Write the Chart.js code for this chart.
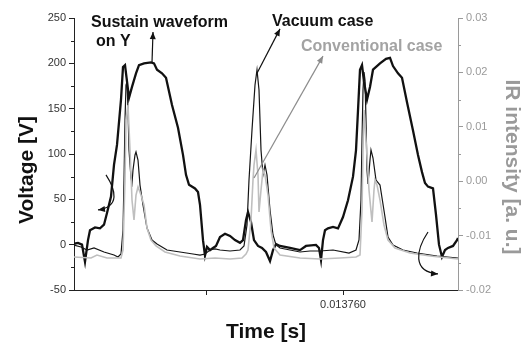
<!DOCTYPE html>
<html>
<head>
<meta charset="utf-8">
<script src="https://cdn.jsdelivr.net/npm/chart.js@4.4.0/dist/chart.umd.min.js"></script>
<style>
  html, body { margin: 0; padding: 0; background: #fff; }
</style>
</head>
<body>
<canvas id="chart" width="526" height="344"></canvas>
<script>
// time in sample units across the record, 0.013760 s falls on sample 269
const timeTicks = [132, 269];
const timeTickLabels = ['', '0.013760'];
const voltageTicks = [-50, 0, 50, 100, 150, 200, 250];
const irTicks = [-0.02, -0.01, 0.00, 0.01, 0.02, 0.03];

// sustain waveform on Y [V]
const sustainT = [0, 4, 8, 11, 14, 16, 21, 26, 30, 33, 37, 40, 43, 47, 49, 51, 53, 55, 58, 62, 65, 70, 77, 80, 83, 88, 92, 98, 104, 109, 112, 115, 121, 124, 126, 129, 131, 133, 136, 139, 142, 146, 151, 156, 161, 166, 169, 172, 174, 177, 180, 184, 188, 192, 196, 199, 202, 206, 216, 226, 232, 242, 245, 247, 249, 251, 254, 259, 264, 269, 274, 279, 282, 284, 286, 288, 290, 293, 296, 299, 306, 312, 316, 319, 324, 328, 333, 339, 344, 348, 351, 354, 359, 362, 365, 368, 371, 374, 379, 383, 384];
const sustainV = [1, 2, 0, -19, 5, 16, 19, 18, 22, 35, 53, 88, 110, 160, 196, 198, 180, 162, 174, 189, 198, 200, 201, 200, 193, 189, 184, 154, 129, 99, 77, 66, 62, 58, 44, 5, -12, -2.5, -6, -3.6, -1.4, 8.5, 12, 9.6, 5, 2, 5, 27, 36, 25, 5, -1.4, -3.6, -8, -18, -6, 0.8, -1.4, -3.6, -6, -1.4, -0.3, -3.6, -17, 5, 16, 18, 19.5, 18, 30.5, 49, 75, 104, 148, 193, 198, 180, 160, 174, 193, 200, 205, 206, 197, 189, 184, 157, 126, 99, 80, 68, 64, 62, 33, 0, -13.5, -6, -3.6, -1.4, 5, 7.4];

// IR intensity, vacuum case [a. u.]
const vacuumT = [0, 7, 13, 20, 30, 40, 44, 47, 49, 50, 51, 52, 53, 54, 55, 57, 58, 59, 61, 62, 64, 66, 69, 73, 78, 83, 93, 106, 119, 126, 131, 136, 141, 146, 156, 166, 170, 173, 175, 178, 181, 183, 185, 187, 189, 191, 193, 196, 199, 202, 206, 216, 226, 236, 246, 259, 275, 282, 285, 287, 288, 289, 290, 291, 292, 293, 294, 296, 297, 299, 302, 306, 311, 314, 319, 329, 343, 363, 384];
const vacuumIR = [-0.01173, -0.0121, -0.01265, -0.01228, -0.01301, -0.01357, -0.01393, -0.01338, -0.00897, 0.00022, 0.01125, 0.01768, 0.01824, 0.01309, 0.00574, 0.00059, -0.00033, 0.00206, 0.00482, 0.00537, 0.0039, -0.0007, -0.00438, -0.0086, -0.01081, -0.01154, -0.01265, -0.01301, -0.01338, -0.01357, -0.01338, -0.01265, -0.01246, -0.01265, -0.01283, -0.01265, -0.01191, -0.00805, 0.00022, 0.00941, 0.01768, 0.02044, 0.01676, 0.00574, 0.00114, 0.00298, 0.00114, -0.00529, -0.00989, -0.01173, -0.01228, -0.01265, -0.01301, -0.01283, -0.01283, -0.01265, -0.0132, -0.01265, -0.01081, -0.00346, 0.00757, 0.01676, 0.02007, 0.0186, 0.01125, 0.00206, -0.00051, 0.0039, 0.00574, 0.00426, 0.00022, -0.0007, -0.00658, -0.01026, -0.01173, -0.01265, -0.0132, -0.01375, -0.01412];

// IR intensity, conventional case [a. u.]
const convT = [0, 17, 23, 33, 47, 49, 51, 52, 54, 56, 58, 60, 62, 64, 67, 70, 73, 77, 82, 91, 106, 126, 141, 156, 168, 172, 174, 177, 179, 180, 182, 184, 185, 187, 189, 191, 194, 197, 200, 206, 226, 246, 266, 282, 286, 288, 289, 290, 292, 295, 298, 300, 301, 303, 306, 310, 314, 321, 336, 356, 384];
const convIR = [-0.01393, -0.01412, -0.01357, -0.01412, -0.01412, -0.01265, 0.00022, 0.01125, 0.01401, 0.00574, -0.00346, -0.00713, -0.00254, -0.00107, -0.00254, -0.00438, -0.0086, -0.01081, -0.01191, -0.01301, -0.01375, -0.0143, -0.01412, -0.0143, -0.01412, -0.01338, -0.01265, -0.00713, 0.00022, 0.00298, 0.00574, 0.00114, -0.00566, -0.00162, 0.00206, 0.00114, -0.00254, -0.00897, -0.01228, -0.01357, -0.01412, -0.0143, -0.01412, -0.01393, -0.01357, -0.00529, 0.00574, 0.01309, 0.00757, -0.00162, -0.0075, -0.00162, 0.00022, -0.0007, -0.00346, -0.00805, -0.01081, -0.01228, -0.0132, -0.01375, -0.0143];

// annotation texts and arrows, placed in (time sample, voltage) coordinates
const notes = [
  { text: 'Sustain waveform', t: 17, v: 240, color: '#111' },
  { text: 'on Y', t: 22, v: 219, color: '#111' },
  { text: 'Vacuum case', t: 198, v: 241, color: '#111' },
  { text: 'Conventional case', t: 227, v: 213.6, color: '#a3a3a3' }
];
const arrows = [
  { from: [78, 201], to: [79, 234.5], color: '#111' },
  { from: [183, 189], to: [206, 238], color: '#111' },
  { from: [180, 73.5], to: [249, 208], color: '#8c8c8c' }
];
const curls = [
  { pts: [[32, 77], [42, 60], [46, 41.6], [24, 38.3]] },
  { pts: [[354, 14], [342, -5.8], [338, -30], [364, -32.3]] }
];

const pairs = (xs, ys) => xs.map((x, i) => ({ x: x, y: ys[i] }));
const FONT = "'Liberation Sans', Arial, sans-serif";

function head(ctx, x0, y0, x1, y1, color) {
  const a = Math.atan2(y1 - y0, x1 - x0);
  const L = 7, W = 3;
  ctx.fillStyle = color;
  ctx.beginPath();
  ctx.moveTo(x1, y1);
  ctx.lineTo(x1 - L * Math.cos(a) + W * Math.sin(a), y1 - L * Math.sin(a) - W * Math.cos(a));
  ctx.lineTo(x1 - L * Math.cos(a) - W * Math.sin(a), y1 - L * Math.sin(a) + W * Math.cos(a));
  ctx.closePath();
  ctx.fill();
}

const decor = {
  id: 'decor',
  afterDraw(chart) {
    const { ctx, chartArea: a, scales } = chart;
    const px = t => scales.x.getPixelForValue(t);
    const py = v => scales.y.getPixelForValue(v);
    ctx.save();

    // minor ticks
    ctx.lineWidth = 1;
    ctx.strokeStyle = '#222';
    for (let i = 0; i < voltageTicks.length - 1; i++) {
      const y = Math.round(py((voltageTicks[i] + voltageTicks[i + 1]) / 2)) + 0.5;
      ctx.beginPath(); ctx.moveTo(a.left - 3, y); ctx.lineTo(a.left, y); ctx.stroke();
    }
    ctx.strokeStyle = '#9a9a9a';
    for (let i = 0; i < irTicks.length - 1; i++) {
      const y = Math.round(scales.y2.getPixelForValue((irTicks[i] + irTicks[i + 1]) / 2)) + 0.5;
      ctx.beginPath(); ctx.moveTo(a.right, y); ctx.lineTo(a.right + 3, y); ctx.stroke();
    }

    // axis titles
    ctx.font = 'bold 21px ' + FONT;
    ctx.textAlign = 'center';
    ctx.textBaseline = 'middle';
    ctx.fillStyle = '#111';
    ctx.save(); ctx.translate(27, 170); ctx.rotate(-Math.PI / 2); ctx.fillText('Voltage [V]', 0, 0); ctx.restore();
    ctx.fillStyle = '#9a9a9a';
    ctx.save(); ctx.translate(512, 167); ctx.rotate(Math.PI / 2); ctx.fillText('IR intensity [a. u.]', 0, 0); ctx.restore();
    ctx.fillStyle = '#111';
    ctx.textBaseline = 'alphabetic';
    ctx.fillText('Time [s]', 266, 338);

    // notes
    ctx.font = 'bold 16px ' + FONT;
    ctx.textAlign = 'left';
    notes.forEach(n => { ctx.fillStyle = n.color; ctx.fillText(n.text, px(n.t), py(n.v)); });

    // straight arrows
    ctx.lineWidth = 1.2;
    arrows.forEach(r => {
      const x0 = px(r.from[0]), y0 = py(r.from[1]), x1 = px(r.to[0]), y1 = py(r.to[1]);
      ctx.strokeStyle = r.color;
      ctx.beginPath(); ctx.moveTo(x0, y0); ctx.lineTo(x1, y1); ctx.stroke();
      head(ctx, x0, y0, x1, y1, r.color);
    });

    // curled arrows
    ctx.strokeStyle = '#111';
    curls.forEach(c => {
      const p = c.pts.map(q => [px(q[0]), py(q[1])]);
      ctx.beginPath();
      ctx.moveTo(p[0][0], p[0][1]);
      ctx.bezierCurveTo(p[1][0], p[1][1], p[2][0], p[2][1], p[3][0], p[3][1]);
      ctx.stroke();
      head(ctx, p[2][0] + (p[3][0] - p[2][0]) * 0.6, p[2][1] + (p[3][1] - p[2][1]) * 0.6, p[3][0], p[3][1], '#111');
    });
    ctx.restore();
  }
};

new Chart(document.getElementById('chart').getContext('2d'), {
  type: 'line',
  data: {
    datasets: [
      { label: 'Conventional case', data: pairs(convT, convIR), yAxisID: 'y2', borderColor: '#bfbfbf', borderWidth: 1.6 },
      { label: 'Vacuum case', data: pairs(vacuumT, vacuumIR), yAxisID: 'y2', borderColor: '#151515', borderWidth: 1.2 },
      { label: 'Sustain waveform on Y', data: pairs(sustainT, sustainV), yAxisID: 'y', borderColor: '#111', borderWidth: 2.3 }
    ]
  },
  options: {
    responsive: false,
    animation: false,
    events: [],
    layout: { padding: { top: 18, left: 0, right: 0, bottom: 0 } },
    elements: { point: { radius: 0 }, line: { tension: 0, fill: false } },
    plugins: { legend: { display: false }, tooltip: { enabled: false } },
    scales: {
      x: {
        type: 'linear', min: 0, max: 384,
        afterBuildTicks: s => { s.ticks = timeTicks.map(v => ({ value: v })); },
        afterFit: s => { s.height = 54; },
        ticks: {
          autoSkip: false, maxRotation: 0, padding: 3, color: '#333',
          font: { family: FONT, size: 11 },
          callback: v => timeTickLabels[timeTicks.indexOf(v)]
        },
        grid: { drawOnChartArea: false, tickLength: 5, color: '#222' },
        border: { color: '#222', width: 1 }
      },
      y: {
        position: 'left', min: -50, max: 250,
        afterBuildTicks: s => { s.ticks = voltageTicks.map(v => ({ value: v })); },
        afterFit: s => { s.width = 74; },
        ticks: { padding: 3, color: '#333', font: { family: FONT, size: 11 } },
        grid: { drawOnChartArea: false, tickLength: 5, color: '#222' },
        border: { color: '#222', width: 1 }
      },
      y2: {
        position: 'right', min: -0.02, max: 0.03,
        afterBuildTicks: s => { s.ticks = irTicks.map(v => ({ value: v })); },
        afterFit: s => { s.width = 68; },
        ticks: {
          padding: 3, color: '#9a9a9a', font: { family: FONT, size: 11 },
          callback: v => v.toFixed(2)
        },
        grid: { drawOnChartArea: false, tickLength: 5, color: '#9a9a9a' },
        border: { color: '#9a9a9a', width: 1 }
      }
    }
  },
  plugins: [decor]
});
</script>
</body>
</html>
